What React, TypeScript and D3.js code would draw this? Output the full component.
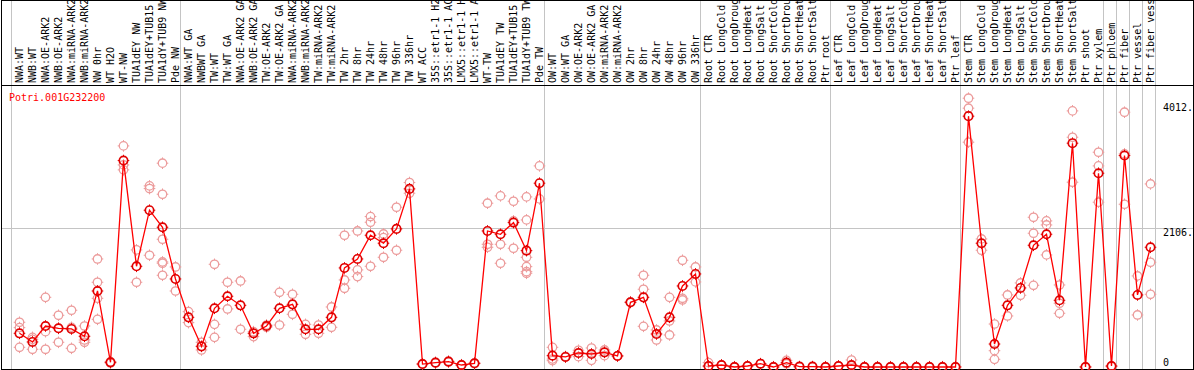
import React, { useEffect, useRef } from "react";
import * as d3 from "d3";

const GENE = "Potri.001G232200";

const labels: string[] = [
    "NWA:WT", "NWB:WT", "NWA:OE-ARK2", "NWB:OE-ARK2", "NWA:miRNA-ARK2", "NWB:miRNA-ARK2",
    "NW 0hr", "WT H2O", "WT-NW", "TUA1dEY NW", "TUA1dEY+TUB15", "TUA1dY+TUB9 NW", "Pde NW",
    "NWA:WT GA", "NWBWT GA", "TW:WT", "TW:WT GA", "NWA:OE-ARK2 GA", "NWB:OE-ARK2 GA",
    "TW:OE-ARK2", "TW:OE-ARK2 GA", "NWA:miRNA-ARK2", "NWB:miRNA-ARK2", "TW:miRNA-ARK2",
    "TW:miRNA-ARK2", "TW 2hr", "TW 8hr", "TW 24hr", "TW 48hr", "TW 96hr", "TW 336hr",
    "WT ACC", "35S::etr1-1 H2", "35S::etr1-1 AC", "LMX5::etr1-1 H", "LMX5::etr1-1 A",
    "WT-TW", "TUA1dEY TW", "TUA1dEY+TUB15", "TUA1dY+TUB9 TW", "Pde TW",
    "OW:WT", "OW:WT GA", "OW:OE-ARK2", "OW:OE-ARK2 GA", "OW:miRNA-ARK2", "OW:miRNA-ARK2",
    "OW 2hr", "OW 8hr", "OW 24hr", "OW 48hr", "OW 96hr", "OW 336hr",
    "Root CTR", "Root LongCold", "Root LongDroug", "Root LongHeat", "Root LongSalt",
    "Root ShortCold", "Root ShortDrou", "Root ShortHeat", "Root ShortSalt", "Ptr root",
    "Leaf CTR", "Leaf LongCold", "Leaf LongDroug", "Leaf LongHeat", "Leaf LongSalt",
    "Leaf ShortCold", "Leaf ShortDrou", "Leaf ShortHeat", "Leaf ShortSalt", "Ptr leaf",
    "Stem CTR", "Stem LongCold", "Stem LongDroug", "Stem LongHeat", "Stem LongSalt",
    "Stem ShortCold", "Stem ShortDrou", "Stem ShortHeat", "Stem ShortSalt", "Ptr shoot",
    "Ptr xylem", "Ptr phloem", "Ptr fiber", "Ptr vessel", "Ptr fiber vessel",
];

// column counts after which a grey separator is drawn
const groupBreaks = [0, 13, 41, 53, 63, 73, 84, 85, 86, 87, 88];

const means: number[] = [
    510, 379, 621, 586, 576, 465, 1151, 71, 3126, 1525, 2374, 2116, 1333,
    752, 313, 889, 1071, 934, 510, 621, 889, 949, 571, 571, 752, 1500, 1636, 1995,
    1874, 2091, 2697, 45, 66, 81, 30, 56, 2060, 2010, 2187, 1762, 2783,
    172, 152, 212, 197, 222, 167, 980, 1055, 500, 752, 1227, 1409,
    15, 30, 0, 15, 50, 0, 66, 5, 5, 0,
    15, 30, 0, 0, 0, 0, 0, 0, 0, 0,
    3798, 1874, 348, 934, 1197, 1843, 2010, 1010, 3389, 0,
    2934, 15, 3202, 1091, 1813,
];

const reps: number[][] = [
    [677, 596, 298], [449, 268, 419], [1055, 535, 268], [783, 586, 374], [859, 601, 283],
    [621, 409, 374], [1636, 1283, 1040, 722], [60, 80], [3348, 3060, 2985], [1773, 1283],
    [2742, 2702, 1692], [3086, 2616, 1934, 1591, 1571, 1389], [1515, 1151],
    [838, 672], [374, 258], [1555, 646, 449], [1283, 879], [1303, 571],
    [535, 460], [636, 601], [1131, 636], [1101, 798], [646, 495], [636, 510], [909, 601],
    [1995, 1318, 1192], [2060, 1470, 1369], [2278, 2192, 1525], [2015, 1959, 1661],
    [2419, 1768], [2793, 2631], [40, 50], [60, 70], [75, 90], [25, 35], [50, 60],
    [2480, 1858, 1813], [2591, 1858, 1571], [2510, 2212, 1798],
    [2576, 2227, 1661, 1520, 1444, 1419], [3045, 2545],
    [298, 121, 96], [152, 160], [253, 157], [288, 101], [258, 172], [167, 170],
    [985, 975], [1389, 1177, 616], [561, 409], [1055, 697, 485], [1616, 1040, 1015], [1515, 1288],
    [66, 10], [30, 25], [0, 5], [15, 10], [50, 45], [0, 5], [101, 50], [5, 0], [5, 0], [0, 5],
    [15, 10], [106, 20], [0, 5], [0, 5], [0, 5], [0, 5], [0, 5], [0, 5], [0, 5], [0, 5],
    [4070, 3919, 3404], [1939, 1768], [651, 247, 116], [1091, 773], [1273, 1086],
    [2267, 2025, 1237], [2212, 2151, 1697], [1242, 965, 813], [3878, 3479, 2798], [0, 5],
    [3252, 3045, 2495], [15, 5], [3858, 3227, 2464], [1379, 788], [2772, 1586, 1101],
];

const yTicks = [0, 2106, 4012];
const yTickLabels = ["0", "2106.", "4012."];

const W = 1194;
const H = 370;
const FONT = "'DejaVu Sans Mono', monospace";

const App: React.FC = () => {
    const svgRef = useRef<SVGSVGElement | null>(null);

    useEffect(() => {
        if (!svgRef.current) return;
        const svg = d3.select(svgRef.current);
        svg.selectAll("*").remove();

        const colW = 13;
        const x0 = 11;
        const headerY = 85;
        const bottom = 369;
        const right = 1193;

        // x position of column centre
        const x = d3
            .scaleLinear()
            .domain([0, labels.length])
            .range([x0, x0 + colW * labels.length]);
        const cx = (i: number) => x(i) + 8.5;

        const y = d3.scaleLinear().domain([0, 4270]).range([367, headerY]);

        // vertical separators
        svg.append("g")
            .selectAll("line")
            .data(groupBreaks)
            .join("line")
            .attr("x1", d => x(d) + 0.5)
            .attr("x2", d => x(d) + 0.5)
            .attr("y1", 0)
            .attr("y2", bottom)
            .attr("stroke", "#c4c4c4")
            .attr("stroke-width", 1);

        // horizontal grid at mid tick
        svg.append("line")
            .attr("x1", 1)
            .attr("x2", right)
            .attr("y1", Math.round(y(yTicks[1])) + 0.5)
            .attr("y2", Math.round(y(yTicks[1])) + 0.5)
            .attr("stroke", "#c4c4c4");

        // header labels (rotated)
        svg.append("g")
            .selectAll("text")
            .data(labels)
            .join("text")
            .attr("transform", (d, i) => `translate(${cx(i) + 3.5},${headerY - 2}) rotate(-90)`)
            .style("font-family", FONT)
            .style("font-size", "10px")
            .attr("fill", "#000")
            .text(d => (d.length > 14 ? d.slice(0, 14) : d));

        // frame
        svg.append("rect")
            .attr("x", 1.5)
            .attr("y", 0.5)
            .attr("width", right - 1)
            .attr("height", bottom)
            .attr("fill", "none")
            .attr("stroke", "#000");
        svg.append("line")
            .attr("x1", 1)
            .attr("x2", right + 1)
            .attr("y1", headerY + 0.5)
            .attr("y2", headerY + 0.5)
            .attr("stroke", "#000");

        // y tick labels on the right
        svg.append("g")
            .selectAll("text")
            .data(yTicks)
            .join("text")
            .attr("x", 1163)
            .attr("y", d => Math.min(y(d) + 8.5, 366))
            .style("font-family", FONT)
            .style("font-size", "10px")
            .attr("fill", "#000")
            .text((d, i) => yTickLabels[i]);

        // gene name
        svg.append("text")
            .attr("x", 9)
            .attr("y", 101)
            .style("font-family", FONT)
            .style("font-size", "10px")
            .attr("fill", "#ff0000")
            .text(GENE);

        const marker = (g: d3.Selection<SVGGElement, unknown, null, undefined>, px: number, py: number, color: string, sw: number) => {
            const r = 4.2;
            g.append("circle")
                .attr("cx", px)
                .attr("cy", py)
                .attr("r", r)
                .attr("fill", "none")
                .attr("stroke", color)
                .attr("stroke-width", sw);
            const t = 1.6;
            g.append("path")
                .attr(
                    "d",
                    `M${px},${py - r - t}V${py - r}M${px},${py + r}V${py + r + t}` +
                        `M${px - r - t},${py}H${px - r}M${px + r},${py}H${px + r + t}`
                )
                .attr("stroke", color)
                .attr("stroke-width", 1);
        };

        // replicate points
        const repG = svg.append("g");
        reps.forEach((arr, i) => {
            arr.forEach(v => marker(repG, cx(i), y(v), "#ec9c9c", 1.3));
        });

        // mean line
        const line = d3
            .line<number>()
            .x((d, i) => cx(i))
            .y(d => y(d));
        svg.append("path")
            .datum(means)
            .attr("fill", "none")
            .attr("stroke", "#ff0000")
            .attr("stroke-width", 1.3)
            .attr("d", line);

        const meanG = svg.append("g");
        means.forEach((v, i) => marker(meanG, cx(i), y(v), "#e00000", 1.7));
    }, []);

    return (
        <svg
            ref={svgRef}
            width={W}
            height={H}
            style={{ position: "absolute", left: 0, top: 0, background: "#fff" }}
        />
    );
};

export default App;
